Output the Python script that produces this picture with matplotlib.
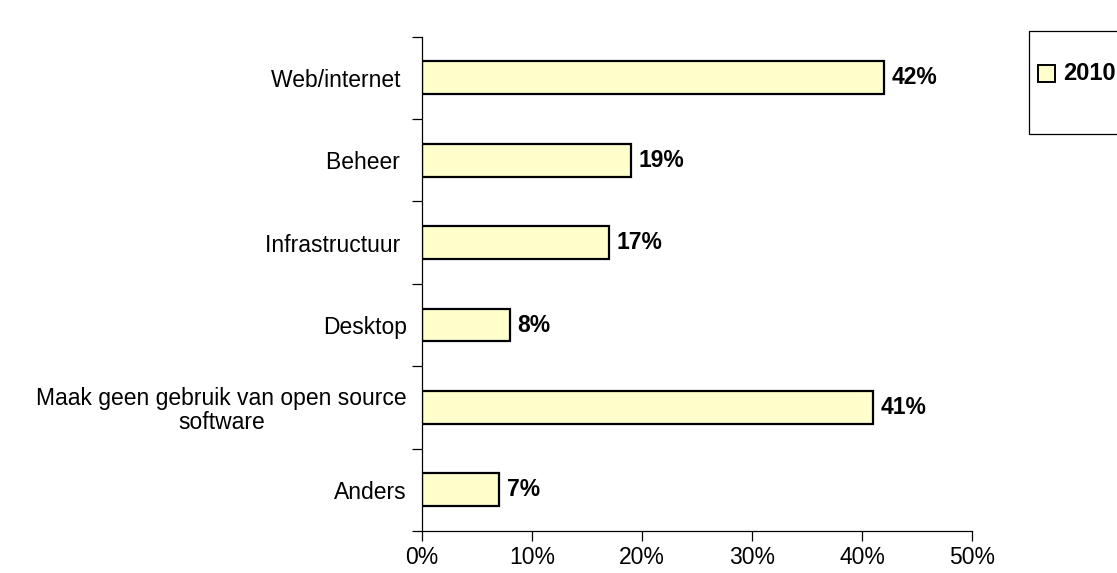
import numpy as np
import matplotlib.pyplot as plt
from matplotlib.patches import Rectangle
from matplotlib.ticker import FixedLocator, PercentFormatter

plt.rcParams['font.family'] = ['Liberation Sans', 'DejaVu Sans']

categories = ['Web/internet ', 'Beheer ', 'Infrastructuur ', 'Desktop',
              'Maak geen gebruik van open source\nsoftware', 'Anders']
values_2010 = [42, 19, 17, 8, 41, 7]
series_name = '2010'

fill = '#FFFFCC'
fs = 16.5

fig = plt.figure(figsize=(11.17, 5.73), dpi=100)
ax = fig.add_axes([422 / 1117, 42 / 573, 550 / 1117, 494.4 / 573])

n = len(categories)
ypos = np.arange(n)
ax.barh(ypos, values_2010, height=0.4, color=fill, edgecolor='black', linewidth=1.6)
for y, v in zip(ypos, values_2010):
    ax.text(v + 0.7, y, f'{v}%', va='center', ha='left', fontsize=fs, fontweight='bold')

ax.set_xlim(0, 50)
ax.set_ylim(n - 0.5, -0.5)
ax.set_xticks(np.arange(0, 51, 10))
ax.xaxis.set_major_formatter(PercentFormatter(decimals=0))
ax.set_yticks(ypos)
ax.set_yticklabels(categories, fontsize=fs, multialignment='center', linespacing=1.05)
ax.yaxis.set_minor_locator(FixedLocator(np.arange(-0.5, n, 1.0)))
ax.tick_params(axis='y', which='major', length=0, pad=11)
ax.tick_params(axis='y', which='minor', length=7, width=0.9, direction='out')
ax.tick_params(axis='x', length=7, width=0.9, labelsize=fs, pad=4)

for side in ('top', 'right'):
    ax.spines[side].set_visible(False)
for side in ('left', 'bottom'):
    ax.spines[side].set_linewidth(0.9)

# legend box, partly outside the figure like the original
fig.patches.append(Rectangle((1029 / 1117, (573 - 134) / 573), 0.2, 103 / 573,
                             transform=fig.transFigure, facecolor='white',
                             edgecolor='black', linewidth=0.9))
fig.patches.append(Rectangle((1038 / 1117, (573 - 82) / 573), 17 / 1117, 17 / 573,
                             transform=fig.transFigure, facecolor=fill,
                             edgecolor='black', linewidth=1.4))
fig.text(1063 / 1117, (573 - 73) / 573, series_name, fontsize=fs + 0.5, fontweight='bold',
         va='center', ha='left')

fig.savefig('out.png', dpi=100)
